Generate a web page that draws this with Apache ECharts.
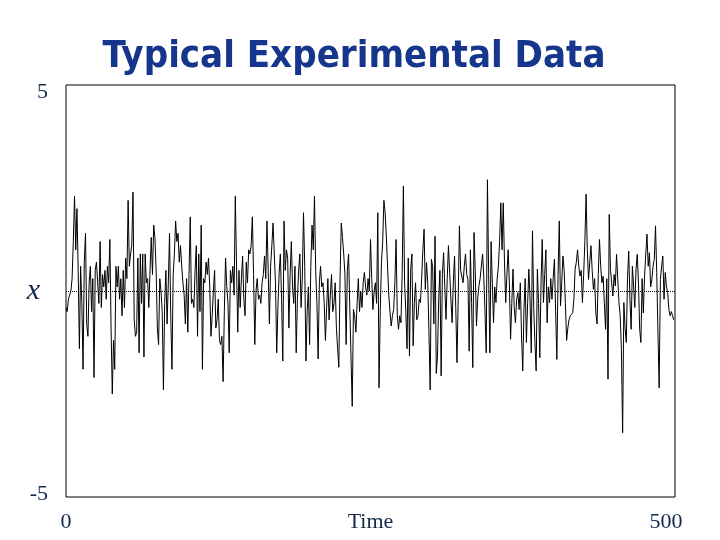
<!DOCTYPE HTML>
<html>
<head>
    <meta charset="utf-8">
    <title>Typical Experimental Data</title>
    <script type="text/javascript" src="https://cdn.jsdelivr.net/npm/echarts/dist/echarts.min.js"></script>
</head>
<body style="padding:0px;margin:0px;background:#fff;">
    <div id="main" style="width:720px;height:540px;padding:0px;margin:0px;"></div>

    <script type="text/javascript">
        var signal = [
            -0.4, -0.5, -0.2, -0.1, 0.0, 0.3, 1.2, 2.3, 1.0, 2.0,
            0.5, -1.4, 0.6, -0.3, -1.9, 0.7, 1.4, -0.8, -1.1, 0.2,
            0.6, -0.5, 0.3, -2.1, 0.5, 0.7, 0.2, -0.3, 1.2, -0.4,
            0.4, 0.1, 0.5, -0.2, 0.6, 0.2, 1.25, -0.9, -2.5, -1.2,
            -1.9, 0.6, 0.1, 0.6, -0.2, 0.3, -0.6, 0.5, -0.4, 0.8,
            0.3, 2.2, 0.6, 0.9, 1.1, 2.4, -0.7, -1.1, -1.0, 0.8,
            -1.5, 0.9, -0.3, 0.9, -1.6, 0.9, 0.2, 0.3, -0.4, 0.5,
            1.3, 0.4, 1.6, 1.3, 0.5, -0.9, -1.3, 0.3, 0.0, -0.5,
            -2.4, -0.3, 0.5, -0.8, 0.2, 1.4, -0.6, -1.9, 0.4, 0.9,
            1.7, 1.2, 1.4, 0.7, 1.1, 0.6, 0.2, -0.1, -0.8, 0.3,
            -1.0, 0.4, 1.8, -0.3, -0.2, -0.4, 0.5, 1.1, -1.1, 0.9,
            -0.5, 1.6, -1.9, 0.3, 0.2, 0.7, 0.4, 0.8, 0.1, -1.1,
            -0.6, 0.0, 0.5, -0.9, -0.7, -0.2, -1.2, -1.3, -1.1, -2.2,
            -0.5, 0.8, 0.1, -0.3, -1.5, 0.5, 0.2, 0.6, -0.1, 2.3,
            0.6, -1.0, 0.5, -0.4, 0.3, 0.85, -0.2, -0.6, 0.7, 0.2,
            1.0, 0.9, 1.1, 1.8, 0.4, -1.3, 0.0, 0.3, -0.2, -0.1,
            -0.3, 0.2, 0.4, 0.85, 0.3, 1.7, 0.5, -0.8, 0.6, 1.1,
            1.65, 0.9, 0.2, -1.5, -0.4, 0.45, 0.9, -0.2, -1.7, 1.7,
            0.5, 1.0, 0.8, -0.9, 0.4, 1.2, 0.1, -0.3, 0.6, -1.5,
            -0.2, 0.5, 0.9, -0.4, 0.3, 1.9, 0.6, -1.7, -0.5, 0.1,
            -1.3, 0.6, 1.6, 1.0, 2.3, 0.5, -0.3, -1.65, 0.2, 0.6,
            0.1, 0.2, -0.3, -1.2, -0.4, 0.3, -0.7, -0.1, 0.4, -0.5,
            -0.3, 0.2, -0.9, -1.4, -1.85, 0.3, 1.65, 1.3, 0.9, 0.4,
            -1.3, 0.5, 0.9, -0.4, -1.6, -2.8, -0.45, -0.6, -1.0, -0.3,
            0.3, -0.5, 0.0, -0.4, 0.2, 0.45, 0.1, -0.1, 0.3, 0.0,
            1.25, 0.3, -0.45, 0.0, 0.2, -0.3, 1.9, -2.35, -0.5, 0.7,
            1.2, 2.2, 1.9, 1.33, 0.6, -0.1, -0.5, -0.85, -0.6, -0.45,
            0.2, 1.25, -0.6, -0.93, -0.6, -0.77, 0.4, 2.55, 0.2, -0.5,
            -1.4, 0.8, -1.58, 0.53, 0.9, -1.33, -0.3, 0.2, -0.7, -0.6,
            -0.2, -0.28, 0.3, 1.0, 1.5, 0.04, 0.69, 0.2, -1.0, -2.4,
            0.77, 0.6, -0.8, 1.33, -2.0, -1.58, -0.2, 0.5, -2.06, 0.4,
            0.93, 0.1, -0.69, 0.3, 1.1, 0.45, -0.2, -0.77, 0.2, 0.85,
            -0.4, -1.74, -0.2, 1.58, 0.5, 0.53, 0.2, 0.6, 0.9, 0.4,
            0.28, -1.46, 1.0, -0.3, -1.86, 1.42, 0.5, -0.85, -0.2, 0.12,
            0.3, 0.6, 0.9, 0.36, -0.5, -1.5, 2.7, 0.4, -1.5, 1.2,
            0.2, -0.77, 0.1, -0.28, 0.3, 0.6, 1.2, 2.14, 1.0, 2.14,
            0.7, -0.28, 0.4, 1.0, 0.2, -1.17, -0.3, 0.53, -0.4, -0.77,
            -0.2, -0.04, -0.45, 0.2, -1.09, -1.94, -0.45, 0.3, -1.25, -0.3,
            0.53, -0.2, -1.5, 1.46, -0.4, -1.25, -1.94, 0.53, -0.3, -1.62,
            0.2, 1.25, -0.28, 0.4, 1.0, -0.77, 0.1, -0.28, 0.3, -0.2,
            0.3, 0.77, -0.5, -1.66, 0.4, 1.7, -0.36, 0.2, 0.85, 0.5,
            -0.3, -1.2, -0.9, -0.7, -0.6, -0.6, -0.53, -0.2, 0.53, 0.7,
            1.0, 0.6, 0.36, 0.5, -0.28, 0.4, 1.2, 2.35, 1.0, 0.28,
            0.7, 1.1, 0.5, 0.04, 0.3, -0.53, -0.8, 0.4, 1.25, 0.6,
            0.2, 0.36, -0.3, -0.93, 0.3, -2.14, 1.86, 0.53, 0.2, -0.12,
            0.4, 0.12, 0.89, 0.3, -0.28, -0.6, -1.42, -3.44, -0.28, -0.9,
            -1.25, 0.3, 0.97, -0.2, -0.93, 0.6, 0.12, -0.4, 0.53, 0.89,
            0.2, -0.93, -1.25, 0.3, -0.53, 0.36, 0.9, 1.38, 0.6, 0.93,
            0.1, 0.28, 0.6, 0.77, 1.58, 0.45, -1.0, -2.35, 0.28, 0.6,
            0.85, -0.2, 0.45, 0.1, -0.04, -0.45, -0.6, -0.5, -0.6, -0.7
        ];
        var xRange = [0, 500];     // time axis ends
        var yRange = [-5, 5];      // x axis ends

        var points = [];
        for (var i = 0; i < signal.length; i++) {
            points.push([i, signal[i]]);
        }

        var labelColor = '#13294b';
        var serif = '"Liberation Serif", "Times New Roman", serif';
        var myChart = echarts.init(document.getElementById('main'));

        var option = {
            backgroundColor: '#fff',
            animation: false,
            title: {
                text: 'Typical Experimental Data',
                left: 349,
                top: 33,
                textAlign: 'center',
                textStyle: {
                    fontFamily: '"DejaVu Sans Condensed", "Liberation Sans Narrow", Arial, sans-serif',
                    fontWeight: 'bold',
                    fontSize: 38,
                    color: '#16358c'
                }
            },
            grid: {
                left: 66,
                right: 45,
                top: 85,
                bottom: 43,
                containLabel: false,
                outerBoundsMode: 'none',
                show: true,
                borderColor: '#000',
                borderWidth: 1
            },
            xAxis: {
                type: 'value',
                min: xRange[0],
                max: xRange[1],
                interval: 500,
                name: 'Time',
                nameLocation: 'middle',
                nameGap: 14,
                nameMoveOverlap: false,
                nameTextStyle: {
                    fontFamily: serif,
                    fontSize: 22,
                    color: labelColor,
                    verticalAlign: 'top'
                },
                axisLine: { show: false },
                axisTick: { show: false },
                splitLine: { show: false },
                axisLabel: {
                    margin: 14,
                    fontFamily: serif,
                    fontSize: 22,
                    color: labelColor,
                    formatter: function (v) {
                        return v === xRange[1] ? '{r|' + v + '}' : String(v);
                    },
                    rich: {
                        r: { fontFamily: serif, fontSize: 22, color: labelColor, padding: [0, 18, 6, 0] }
                    }
                }
            },
            yAxis: {
                type: 'value',
                min: yRange[0],
                max: yRange[1],
                interval: 5,
                name: 'x',
                nameLocation: 'middle',
                nameRotate: 0,
                nameGap: 26,
                nameMoveOverlap: false,
                nameTextStyle: {
                    fontFamily: serif,
                    fontStyle: 'italic',
                    fontSize: 30,
                    color: labelColor
                },
                axisLine: { show: false },
                axisTick: { show: false },
                splitLine: { show: false },
                axisLabel: {
                    margin: 18,
                    fontFamily: serif,
                    fontSize: 22,
                    color: labelColor,
                    // nudge the end labels inward a little, as in the original
                    formatter: function (v) {
                        if (v === yRange[1]) return '{t|' + v + '}';
                        if (v === yRange[0]) return '{b|' + v + '}';
                        return '';
                    },
                    rich: {
                        t: { fontFamily: serif, fontSize: 22, color: labelColor, padding: [14, 0, 0, 0] },
                        b: { fontFamily: serif, fontSize: 22, color: labelColor, padding: [0, 0, 6, 0] }
                    }
                }
            },
            series: [
                {
                    type: 'line',
                    data: points,
                    showSymbol: false,
                    symbol: 'none',
                    lineStyle: { color: '#000', width: 1 },
                    markLine: {
                        silent: true,
                        symbol: 'none',
                        label: { show: false },
                        lineStyle: { color: '#000', type: 'dotted', width: 1 },
                        data: [{ yAxis: 0 }]
                    }
                }
            ]
        };
        myChart.setOption(option);
    </script>
</body>
</html>
